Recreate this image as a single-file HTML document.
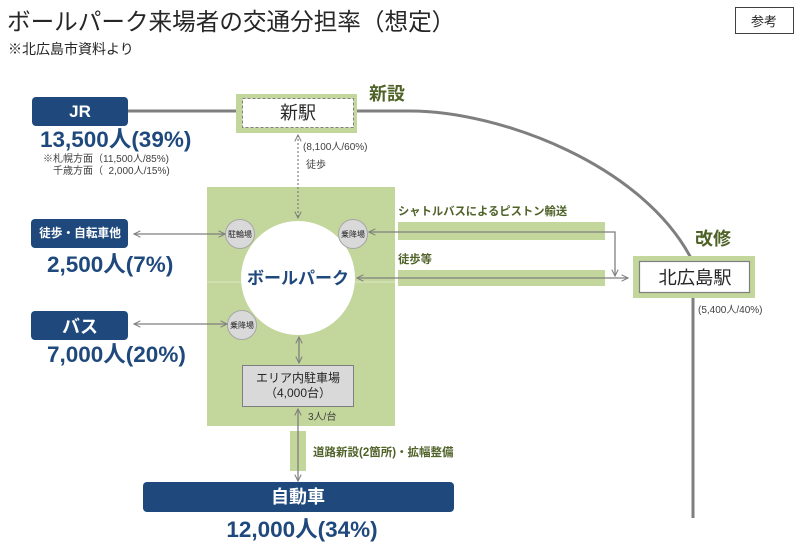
<!DOCTYPE html>
<html><head><meta charset="utf-8"><style>
html,body{margin:0;padding:0;background:#fff;}
svg{display:block;}
text{font-family:"Liberation Sans","Noto Sans CJK JP",sans-serif;}
</style></head><body>
<svg width="800" height="544" viewBox="0 0 800 544" xmlns="http://www.w3.org/2000/svg">
<defs>
<marker id="a" viewBox="0 0 10 10" refX="9" refY="5" markerWidth="8" markerHeight="8" orient="auto-start-reverse" markerUnits="userSpaceOnUse">
<path d="M1,1 L9,5 L1,9" fill="none" stroke="#7f7f7f" stroke-width="1.3"/>
</marker>
</defs>

<!-- title -->
<text x="7" y="30" font-size="23.6" fill="#262626">ボールパーク来場者の交通分担率（想定）</text>
<text x="8" y="54" font-size="14" fill="#262626">※北広島市資料より</text>
<rect x="735.5" y="7.5" width="58" height="26" fill="#fff" stroke="#404040" stroke-width="1"/>
<text x="764" y="26" font-size="13" text-anchor="middle" fill="#262626">参考</text>

<!-- rail line -->
<path d="M128,111 H410 C500,111 645,165 693,262 V518" fill="none" stroke="#7f7f7f" stroke-width="3"/>

<!-- new station -->
<rect x="236" y="94" width="121" height="39" fill="#c3d69b"/>
<rect x="242.5" y="98.5" width="111" height="29" fill="#fff" stroke="#7f7f7f" stroke-width="1" stroke-dasharray="3,2"/>
<text x="298" y="119" font-size="18" text-anchor="middle" fill="#262626">新駅</text>
<text x="369" y="100" font-size="18" font-weight="bold" fill="#4f6228">新設</text>

<!-- green area -->
<rect x="207" y="187" width="188" height="239" fill="#c3d69b"/>
<line x1="207" y1="282" x2="395" y2="282" stroke="#dde8c6" stroke-width="1"/>

<!-- dashed walk arrow -->
<line x1="298" y1="135" x2="298" y2="218" stroke="#7f7f7f" stroke-width="1.2" stroke-dasharray="2,2" marker-start="url(#a)" marker-end="url(#a)"/>
<text x="303" y="150" font-size="10" fill="#404040">(8,100人/60%)</text>
<text x="306" y="168" font-size="10" fill="#404040">徒歩</text>

<!-- ballpark circle -->
<circle cx="298" cy="278" r="57" fill="#fff"/>
<text x="298" y="284" font-size="17" font-weight="bold" text-anchor="middle" fill="#1f497d">ボールパーク</text>

<!-- small circles -->
<circle cx="240" cy="234" r="14.5" fill="#d9d9d9" stroke="#a6a6a6" stroke-width="1"/>
<text x="240" y="237" font-size="8" text-anchor="middle" fill="#262626">駐輪場</text>
<circle cx="353" cy="234" r="14.5" fill="#d9d9d9" stroke="#a6a6a6" stroke-width="1"/>
<text x="353" y="237" font-size="8" text-anchor="middle" fill="#262626">乗降場</text>
<circle cx="242" cy="325" r="14.5" fill="#d9d9d9" stroke="#a6a6a6" stroke-width="1"/>
<text x="242" y="328" font-size="8" text-anchor="middle" fill="#262626">乗降場</text>

<!-- parking -->
<rect x="242.5" y="365.5" width="111" height="41" fill="#d9d9d9" stroke="#7f7f7f" stroke-width="1"/>
<text x="298" y="382" font-size="12" text-anchor="middle" fill="#262626">エリア内駐車場</text>
<text x="298" y="397" font-size="12" text-anchor="middle" fill="#262626">（4,000台）</text>
<line x1="299" y1="337" x2="299" y2="363" stroke="#7f7f7f" stroke-width="1.3" marker-start="url(#a)" marker-end="url(#a)"/>

<!-- road -->
<rect x="290" y="431" width="16" height="40" fill="#c3d69b"/>
<line x1="298" y1="409" x2="298" y2="481" stroke="#7f7f7f" stroke-width="1.3" marker-start="url(#a)" marker-end="url(#a)"/>
<text x="308" y="420" font-size="10" fill="#404040">3人/台</text>
<text x="313" y="456" font-size="11.5" font-weight="bold" fill="#4f6228">道路新設(2箇所)・拡幅整備</text>

<!-- car -->
<rect x="143" y="482" width="311" height="30" rx="4" fill="#1f497d"/>
<text x="298" y="503" font-size="18" font-weight="bold" text-anchor="middle" fill="#fff">自動車</text>
<text x="302" y="537" font-size="22.5" font-weight="bold" text-anchor="middle" fill="#1f497d">12,000人(34%)</text>

<!-- JR -->
<rect x="32" y="97" width="96" height="29" rx="4" fill="#1f497d"/>
<text x="80" y="117" font-size="17" font-weight="bold" text-anchor="middle" fill="#fff">JR</text>
<text x="40" y="147" font-size="22.5" font-weight="bold" fill="#1f497d">13,500人(39%)</text>
<text x="43" y="162" font-size="10" fill="#404040">※札幌方面（11,500人/85%)</text>
<text x="53" y="174" font-size="10" fill="#404040" xml:space="preserve">千歳方面（  2,000人/15%)</text>

<!-- walk/bike -->
<rect x="31" y="219" width="97" height="29" rx="4" fill="#1f497d"/>
<text x="80" y="237" font-size="11.7" font-weight="bold" text-anchor="middle" fill="#fff">徒歩・自転車他</text>
<text x="47" y="272" font-size="22.5" font-weight="bold" fill="#1f497d">2,500人(7%)</text>
<line x1="134" y1="234" x2="225" y2="234" stroke="#7f7f7f" stroke-width="1.3" marker-start="url(#a)" marker-end="url(#a)"/>

<!-- bus -->
<rect x="31" y="311" width="97" height="29" rx="4" fill="#1f497d"/>
<text x="80" y="333" font-size="18" font-weight="bold" text-anchor="middle" fill="#fff">バス</text>
<text x="47" y="362" font-size="22.5" font-weight="bold" fill="#1f497d">7,000人(20%)</text>
<line x1="134" y1="324" x2="227" y2="324" stroke="#7f7f7f" stroke-width="1.3" marker-start="url(#a)" marker-end="url(#a)"/>

<!-- shuttle -->
<text x="398" y="215" font-size="11.3" font-weight="bold" fill="#4f6228">シャトルバスによるピストン輸送</text>
<rect x="398" y="222" width="207" height="18" fill="#c3d69b"/>
<polyline points="369,232 615,232 615,276" fill="none" stroke="#7f7f7f" stroke-width="1.3" marker-start="url(#a)" marker-end="url(#a)"/>

<!-- walk etc -->
<text x="398" y="263" font-size="11.3" font-weight="bold" fill="#4f6228">徒歩等</text>
<rect x="398" y="270" width="207" height="16" fill="#c3d69b"/>
<line x1="357" y1="278" x2="628" y2="278" stroke="#7f7f7f" stroke-width="1.3" marker-start="url(#a)" marker-end="url(#a)"/>

<!-- Kitahiroshima station -->
<rect x="633" y="256" width="122" height="42" fill="#c3d69b"/>
<rect x="639.5" y="261.5" width="110" height="31" fill="#fff" stroke="#7f7f7f" stroke-width="1.2"/>
<text x="695" y="284" font-size="18.3" text-anchor="middle" fill="#262626">北広島駅</text>
<text x="695" y="245" font-size="18" font-weight="bold" fill="#4f6228">改修</text>
<text x="698" y="313" font-size="10" fill="#404040">(5,400人/40%)</text>
</svg>
</body></html>
